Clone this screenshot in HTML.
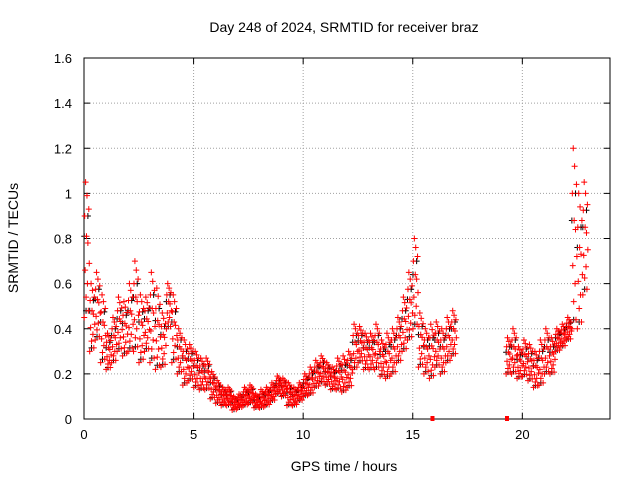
<!DOCTYPE html>
<html><head><meta charset="utf-8"><style>
body{margin:0;background:#fff;}
svg{display:block;font-family:"Liberation Sans",sans-serif;}
</style></head><body>
<svg id="chart" width="640" height="480" viewBox="0 0 640 480">
<rect x="0" y="0" width="640" height="480" fill="#fff"/>
<g id="grid"></g>
<g id="axes"></g>
<g id="marks"></g>
<text x="344" y="32" text-anchor="middle" font-size="14">Day 248 of 2024, SRMTID for receiver braz</text>
<text x="344" y="471" text-anchor="middle" font-size="14">GPS time / hours</text>
<text transform="translate(18,238) rotate(-90)" text-anchor="middle" font-size="14">SRMTID / TECUs</text>
</svg>
<script>
const xTicks=[0,5,10,15,20];
const yTicks=[0,0.2,0.4,0.6,0.8,1,1.2,1.4,1.6];
const yTickLabels=["0","0.2","0.4","0.6","0.8","1","1.2","1.4","1.6"];
const binStart=0, binWidth=0.25;
const mids=[0.75,0.45,0.5,0.4,0.3,0.35,0.42,0.4,0.45,0.5,0.4,0.42,0.45,0.4,0.35,0.5,0.4,0.3,0.25,0.25,
0.22,0.2,0.2,0.15,0.12,0.1,0.1,0.07,0.08,0.1,0.11,0.08,0.09,0.1,0.12,0.15,0.14,0.11,0.1,0.12,
0.15,0.17,0.2,0.22,0.2,0.18,0.2,0.2,0.22,0.32,0.33,0.3,0.3,0.32,0.27,0.28,0.3,0.35,0.42,0.5,
0.6,0.35,0.3,0.3,0.33,0.3,0.35,0.38,null,null,null,null,null,null,null,null,null,0.28,0.3,0.25,
0.27,0.25,0.22,0.25,0.3,0.28,0.35,0.37,0.4,0.8,0.7,0.8];
const spreads=[0.3,0.15,0.15,0.15,0.08,0.1,0.12,0.12,0.15,0.2,0.15,0.12,0.2,0.18,0.12,0.1,0.15,0.1,0.1,0.08,
0.08,0.07,0.07,0.06,0.05,0.04,0.04,0.03,0.03,0.04,0.04,0.03,0.04,0.04,0.04,0.04,0.04,0.05,0.04,0.04,
0.05,0.06,0.06,0.06,0.05,0.05,0.07,0.08,0.08,0.1,0.08,0.08,0.08,0.1,0.08,0.1,0.1,0.1,0.12,0.15,
0.2,0.12,0.1,0.12,0.1,0.1,0.1,0.1,0,0,0,0,0,0,0,0,0,0.08,0.1,0.07,
0.08,0.08,0.08,0.1,0.1,0.08,0.05,0.05,0.05,0.4,0.3,0.25];
const zeroHours=[15.9,19.3];
const X0=84,X1=610,Y0=419,Y1=58;
const xs=h=>X0+(h/24)*(X1-X0);
const ys=v=>Y0-(v/1.6)*(Y0-Y1);
const NS="http://www.w3.org/2000/svg";
function mk(t,a,p){const e=document.createElementNS(NS,t);for(const k in a)e.setAttribute(k,a[k]);p.appendChild(e);return e;}
const grid=document.getElementById('grid'),axes=document.getElementById('axes'),marks=document.getElementById('marks');
xTicks.forEach(t=>{
 if(t>0){const l=mk('line',{x1:xs(t),x2:xs(t),y1:Y1,y2:Y0,stroke:'#a0a0a0','stroke-dasharray':'1,2'},grid);
 
 }
 const tx=mk('text',{x:xs(t),y:Y0+20,'text-anchor':'middle','font-size':13},axes);tx.textContent=t;
 
 
 mk('line',{x1:xs(t),x2:xs(t),y1:Y0,y2:Y0-6,stroke:'#000'},axes);
 mk('line',{x1:xs(t),x2:xs(t),y1:Y1,y2:Y1+6,stroke:'#000'},axes);
});
yTicks.forEach((t,i)=>{
 if(t>0&&t<1.6){const l=mk('line',{x1:X0,x2:X1,y1:ys(t),y2:ys(t),stroke:'#a0a0a0','stroke-dasharray':'1,2'},grid);
 
 }
 const tx=mk('text',{x:X0-12,y:ys(t)+5,'text-anchor':'end','font-size':13},axes);tx.textContent=yTickLabels[i];
 
 
 mk('line',{x1:X0,x2:X0+6,y1:ys(t),y2:ys(t),stroke:'#000'},axes);
 mk('line',{x1:X1,x2:X1-6,y1:ys(t),y2:ys(t),stroke:'#000'},axes);
});
const frame=mk('rect',{x:X0,y:Y1,width:X1-X0,height:Y0-Y1,fill:'none',stroke:'#000'},axes);


const pattern=[-1,0.5,-0.3,1,-0.7,0.2,0.8,-0.5,0.1,-0.9,0.6,-0.2];
function cross(x,y,c){const s=3;mk('path',{d:`M${x-s},${y}H${x+s}M${x},${y-s}V${y+s}`,stroke:c,'stroke-width':1,fill:'none'},marks);}
// sparse black series underneath
mids.forEach((m,i)=>{
 if(m===null)return;
 for(let k=0;k<pattern.length;k+=4){
  const h=binStart+binWidth*(i+(k+0.5)/pattern.length);
  const v=Math.max(0.03,m+spreads[i]*pattern[(k+5)%pattern.length]);
  cross(xs(h),ys(v),'#000');
 }
});
mids.forEach((m,i)=>{
 if(m===null)return;
 for(let k=0;k<pattern.length;k++){
  const h=binStart+binWidth*(i+(k+0.5)/pattern.length);
  const v=Math.max(0.03,m+spreads[i]*pattern[k]);
  cross(xs(h),ys(v),'#f00');
 }
});
zeroHours.forEach(h=>{const r=mk('rect',{x:xs(h)-2,y:Y0-3,width:4,height:5,fill:'#f00'},marks);
 
 });
</script>
</body></html>
